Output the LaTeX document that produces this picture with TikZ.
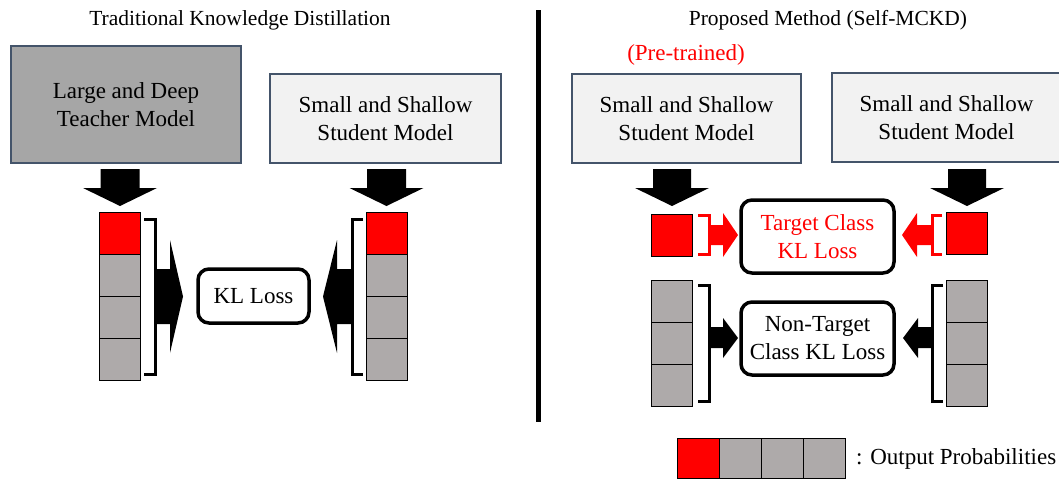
\documentclass[tikz,border=0pt]{standalone}
\usepackage{fontspec}
\setmainfont{Liberation Serif}
\definecolor{boxedge}{HTML}{44546A}
\definecolor{darkbox}{HTML}{A6A6A6}
\definecolor{lightbox}{HTML}{F2F2F2}
\definecolor{cellgray}{HTML}{AEAAAA}
\definecolor{pred}{HTML}{FF0000}
\tikzset{
  modelbox/.style={draw=boxedge, line width=1.3pt, align=center, inner sep=0pt,
    font=\fontsize{23}{28}\selectfont},
  cellbox/.style={draw=black, line width=1.2pt, minimum width=41pt, minimum height=42pt,
    inner sep=0pt, anchor=north west, fill=cellgray},
  lossbox/.style={draw=black, line width=3.5pt, rounded corners=11pt, align=center,
    inner sep=0pt, font=\fontsize{23}{28}\selectfont},
  brk/.style={line width=3pt},
  blk/.style={fill=black},
  titletext/.style={font=\fontsize{21.5}{26}\selectfont},
  plaintext/.style={font=\fontsize{23}{28}\selectfont, inner sep=0pt},
}
\begin{document}
\begin{tikzpicture}[x=1pt,y=-1pt]
\useasboundingbox (0,0) rectangle (1059,479);

% titles and divider
\node[titletext] (ttl) at (240,20) {Traditional Knowledge Distillation};
\node[titletext] (ttr) at (828,20) {Proposed Method (Self-MCKD)};
\draw[line width=4.5pt] (538.5,10) -- (538.5,422);

% ===== left panel =====
\node[modelbox, fill=darkbox, minimum width=230pt, minimum height=117pt] (teacher) at (126,104.5)
  {Large and Deep\\Teacher Model};
\node[modelbox, fill=lightbox, minimum width=231pt, minimum height=89pt] (stuA) at (385.5,118.5)
  {Small and Shallow\\Student Model};

% down arrows
\fill (100.5,169) -- (139.5,169) -- (139.5,188) -- (157,188) -- (120,206) -- (83,188) -- (100.5,188) -- cycle;
\fill (367,169) -- (406,169) -- (406,188) -- (423.5,188) -- (386.5,206) -- (349.5,188) -- (367,188) -- cycle;

% teacher probabilities
\node[cellbox, fill=pred] (tc1) at (99,212) {};
\node[cellbox] (tc2) at (99,254) {};
\node[cellbox] (tc3) at (99,296) {};
\node[cellbox] (tc4) at (99,338) {};
% student probabilities
\node[cellbox, fill=pred] (sc1) at (366,212) {};
\node[cellbox] (sc2) at (366,254) {};
\node[cellbox] (sc3) at (366,296) {};
\node[cellbox] (sc4) at (366,338) {};

% brackets
\draw[brk] (144,219) -- (155,219) -- (155,374) -- (144,374);
\draw[brk] (363,219) -- (352,219) -- (352,374) -- (363,374);

% block arrows to KL loss
\fill (155,269) -- (170,269) -- (170,240) -- (183,296.5) -- (170,353) -- (170,324) -- (155,324) -- cycle;
\fill (352,269) -- (337,269) -- (337,240) -- (323,296.5) -- (337,353) -- (337,324) -- (352,324) -- cycle;

\node[lossbox, minimum width=111pt, minimum height=54pt] (kl) at (253.5,296) {KL Loss};

% ===== right panel =====
\node[plaintext, text=pred] (pre) at (686,55) {(Pre-trained)};
\node[modelbox, fill=lightbox, minimum width=229pt, minimum height=89pt] (stuB) at (686.5,118.5)
  {Small and Shallow\\Student Model};
\node[modelbox, fill=lightbox, minimum width=229pt, minimum height=89pt] (stuC) at (946.5,117.5)
  {Small and Shallow\\Student Model};

\fill (653,169) -- (691,169) -- (691,188) -- (709,188) -- (672,206) -- (635,188) -- (653,188) -- cycle;
\fill (948,169) -- (986,169) -- (986,188) -- (1004,188) -- (967,206) -- (930,188) -- (948,188) -- cycle;

% target probabilities
\node[cellbox, fill=pred] (pL) at (651,214) {};
\node[cellbox, fill=pred] (pR) at (946,212) {};
% non-target probabilities
\node[cellbox] (gL1) at (651,280) {};
\node[cellbox] (gL2) at (651,322) {};
\node[cellbox] (gL3) at (651,364) {};
\node[cellbox] (gR1) at (946,280) {};
\node[cellbox] (gR2) at (946,322) {};
\node[cellbox] (gR3) at (946,364) {};

% loss boxes
\node[lossbox, text=pred, minimum width=153pt, minimum height=73pt] (tkl) at (817.5,236.5)
  {Target Class\\KL Loss};
\node[lossbox, minimum width=153pt, minimum height=73pt] (nkl) at (817.5,338.5)
  {Non-Target\\Class KL Loss};

% red brackets and arrows
\draw[brk, pred] (698,215) -- (709,215) -- (709,254) -- (698,254);
\fill[pred] (709,225) -- (723,225) -- (723,213) -- (738,235) -- (723,257) -- (723,245) -- (709,245) -- cycle;
\draw[brk, pred] (942,215) -- (932,215) -- (932,254) -- (942,254);
\fill[pred] (932,225) -- (917,225) -- (917,213) -- (902,235) -- (917,257) -- (917,245) -- (932,245) -- cycle;

% black brackets and arrows
\draw[brk] (698,285) -- (709,285) -- (709,401) -- (698,401);
\fill (709,327) -- (723,327) -- (723,318) -- (738,338) -- (723,358) -- (723,348) -- (709,348) -- cycle;
\draw[brk] (943,285) -- (932,285) -- (932,401) -- (943,401);
\fill (932,327) -- (918,327) -- (918,318) -- (903,338) -- (918,358) -- (918,348) -- (932,348) -- cycle;

% legend
\node[cellbox, fill=pred, minimum height=40pt, minimum width=42pt] (lg1) at (677,438) {};
\node[cellbox, minimum height=40pt, minimum width=42pt] (lg2) at (719,438) {};
\node[cellbox, minimum height=40pt, minimum width=42pt] (lg3) at (761,438) {};
\node[cellbox, minimum height=40pt, minimum width=42pt] (lg4) at (803,438) {};
\node[plaintext, anchor=west] (lgt) at (856,459) {: Output Probabilities};
\end{tikzpicture}
\end{document}
